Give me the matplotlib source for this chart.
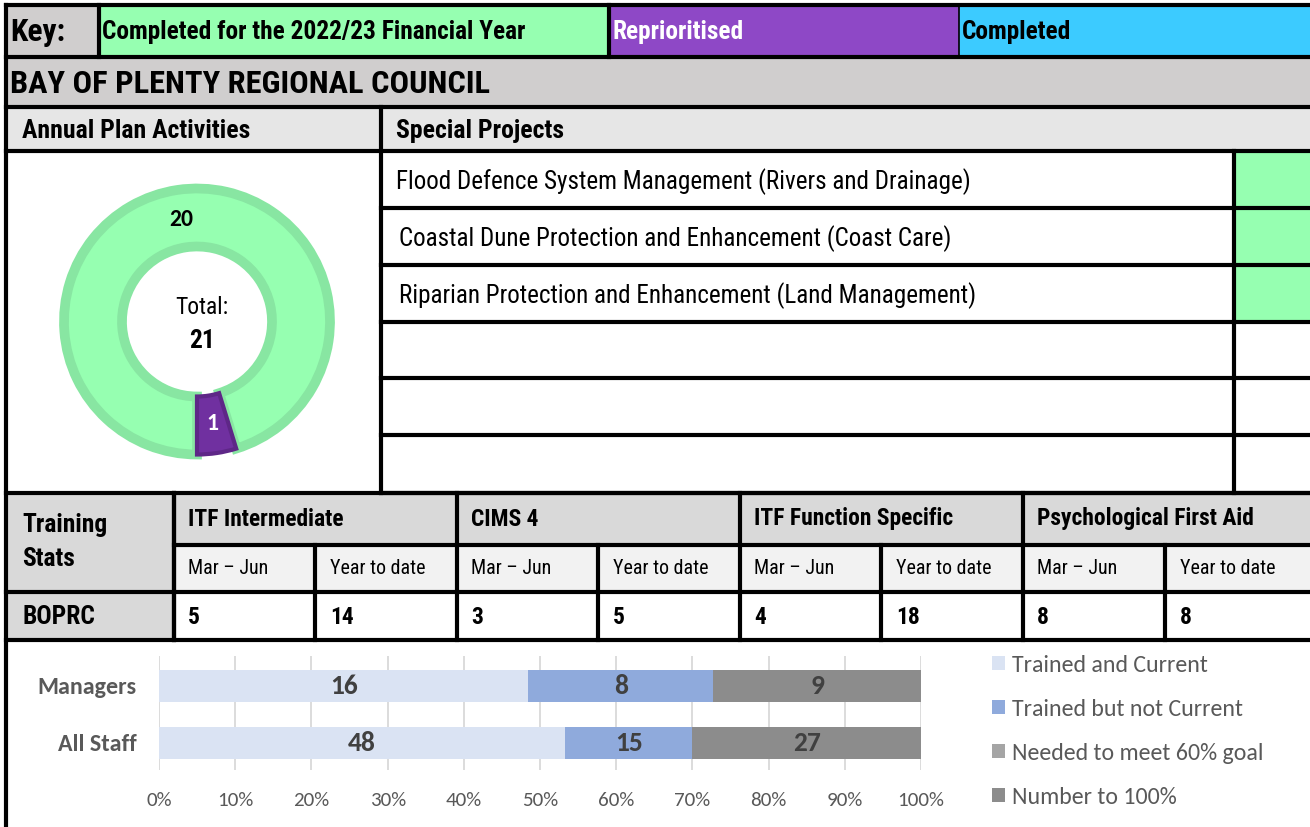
import matplotlib
matplotlib.use("Agg")
import matplotlib.pyplot as plt
from matplotlib.patches import Rectangle
from matplotlib import font_manager

# ---------------- data ----------------
key_title = "Key:"
key_labels = ["Completed for the 2022/23 Financial Year", "Reprioritised", "Completed"]
council = "BAY OF PLENTY REGIONAL COUNCIL"
section_titles = ["Annual Plan Activities", "Special Projects"]
donut_labels = ["Completed for the 2022/23 Financial Year", "Reprioritised"]
donut_values = [20, 1]
special_projects = [
    "Flood Defence System Management (Rivers and Drainage)",
    "Coastal Dune Protection and Enhancement (Coast Care)",
    "Riparian Protection and Enhancement (Land Management)",
    "", "", "",
]
special_status = [0, 0, 0, None, None, None]   # index into key_labels
training_title = ["Training", "Stats"]
training_courses = ["ITF Intermediate", "CIMS 4", "ITF Function Specific", "Psychological First Aid"]
training_periods = ["Mar – Jun", "Year to date"]
training_org = "BOPRC"
training_mar_jun = [5, 3, 4, 8]
training_ytd = [14, 5, 18, 8]
staff_groups = ["Managers", "All Staff"]
series_names = ["Trained and Current", "Trained but not Current",
                "Needed to meet 60% goal", "Number to 100%"]
trained_current = [16, 48]
trained_not_current = [8, 15]
needed_60 = [0, 0]
number_to_100 = [9, 27]
pct_ticks = [0, 10, 20, 30, 40, 50, 60, 70, 80, 90, 100]

# ---------------- fonts ----------------
available = {f.name for f in font_manager.fontManager.ttflist}


def pick(cands):
    for c in cands:
        if c in available:
            return [c, 'DejaVu Sans']
    return ['DejaVu Sans']


NARROW = pick(['Liberation Sans Narrow', 'Arial Narrow', 'Nimbus Sans Narrow',
               'Roboto Condensed', 'PT Sans Narrow', 'Archivo Narrow', 'Liberation Sans'])
CAL = pick(['Carlito', 'Lato', 'DejaVu Sans'])

# ---------------- styles ----------------
key_colors = ['#96ffb1', '#8e48c6', '#3ccbff']
key_text_colors = ['black', 'white', 'black']
donut_face = ['#96ffb1', '#7030a0']
donut_edge = ['#88e6a2', '#5e2787']
donut_lw = [7, 3]
donut_text = ['black', 'white']
series_colors = ['#dae3f3', '#8faadc', '#a5a5a5', '#8c8c8c']
GRAY1 = '#d0cece'
GRAY2 = '#e6e6e6'
GRAY3 = '#d9d9d9'
GRAY4 = '#f2f2f2'
LW = 3.0
DY = 2  # small downward nudge for table text

W, H = 1310, 827
fig = plt.figure(figsize=(W / 100, H / 100), dpi=100)
renderer = fig.canvas.get_renderer()


def fit(s, target, family, weight='normal'):
    t = fig.text(0, 0, s, fontsize=20, family=family, fontweight=weight)
    w = t.get_window_extent(renderer).width
    t.remove()
    return 20 * target / w


S_KEY = fit(key_title, 55, NARROW, 'bold')
S_KEYLAB = fit(key_labels[0], 424, NARROW, 'bold')
S_TITLE = fit(council, 480, NARROW, 'bold')
S_SECT = fit(section_titles[0], 228, NARROW, 'bold')
S_PROJ = fit(special_projects[0], 574, NARROW)
S_TRAIN = fit(training_title[0], 85, NARROW, 'bold')
S_COURSE = fit(training_courses[3], 217, NARROW, 'bold')
S_PERIOD = fit(training_periods[1], 95, NARROW)
S_TOTAL = fit("Total:", 53, NARROW)
S_TICK = fit("100%", 47, CAL)
S_CAT = fit(staff_groups[0], 99, CAL, 'bold')
S_LEG = fit(series_names[0], 196, CAL)
S_BARLAB = fit("48", 28, CAL, 'bold')
S_DONUT = fit("20", 24, CAL, 'bold')

bg = fig.add_axes([0, 0, 1, 1])
bg.set_xlim(0, W)
bg.set_ylim(H, 0)
bg.axis('off')


def rect(x0, y0, x1, y1, color):
    bg.add_patch(Rectangle((x0, y0), x1 - x0, y1 - y0, facecolor=color,
                           edgecolor='none', zorder=0))


def hline(y, x0, x1, lw=LW):
    bg.plot([x0, x1], [y, y], color='black', lw=lw, solid_capstyle='projecting', zorder=3)


def vline(x, y0, y1, lw=LW):
    bg.plot([x, x], [y0, y1], color='black', lw=lw, solid_capstyle='projecting', zorder=3)


def txt(x, y, s, size, weight='normal', color='black', family=NARROW, ha='left'):
    bg.text(x, y + DY, s, fontsize=size, fontweight=weight, color=color, family=family,
            ha=ha, va='center', zorder=4)


# ---- key row ----
key_x = [6, 99, 609, 959, W]
rect(key_x[0], 5, key_x[1], 57, GRAY1)
for i in range(3):
    rect(key_x[i + 1], 5, key_x[i + 2], 57, key_colors[i])
    txt(key_x[i + 1] + 3, 30, key_labels[i], S_KEYLAB, 'bold', key_text_colors[i])
txt(10, 30, key_title, S_KEY, 'bold')
vline(99, 5, 57)
vline(609, 5, 57)
vline(959, 5, 57, lw=1.2)

# ---- title row ----
rect(6, 57, W, 107, GRAY1)
txt(10, 82, council, S_TITLE, 'bold')

# ---- section header ----
rect(6, 107, W, 151, GRAY2)
txt(22, 129, section_titles[0], S_SECT, 'bold')
txt(396, 129, section_titles[1], S_SECT, 'bold')

# ---- special projects ----
row_y = [151, 208, 265, 322, 378, 435, 493]
for i, (name, st) in enumerate(zip(special_projects, special_status)):
    y0, y1 = row_y[i], row_y[i + 1]
    if st is not None:
        rect(1234, y0, W, y1, key_colors[st])
    if name:
        txt(396 if i == 0 else 399, (y0 + y1) / 2, name, S_PROJ)
    hline(y1, 381, W)
vline(381, 107, 493)
vline(1234, 151, 493)

# ---- training table ----
col_x = [6, 174, 315, 457, 598, 740, 881, 1023, 1165, W]
rect(6, 493, W, 545, GRAY3)
rect(6, 545, 174, 592, GRAY3)
rect(174, 545, W, 592, GRAY4)
rect(6, 592, 174, 640, GRAY3)
txt(22, 523, training_title[0], S_TRAIN, 'bold')
txt(22, 557, training_title[1], S_TRAIN, 'bold')
txt(22, 615, training_org, S_TRAIN, 'bold')
for c, course in enumerate(training_courses):
    xa = col_x[1 + 2 * c]
    xb = col_x[2 + 2 * c]
    txt(xa + 14, 517, course, S_COURSE, 'bold')
    txt(xa + 14, 566, training_periods[0], S_PERIOD)
    txt(xb + 15, 566, training_periods[1], S_PERIOD)
    txt(xa + 14, 615, str(training_mar_jun[c]), S_COURSE, 'bold')
    txt(xb + 15, 615, str(training_ytd[c]), S_COURSE, 'bold')
    vline(xa, 493, 640)
    vline(xb, 545, 640)
vline(174, 493, 640)
hline(545, 174, W)
hline(592, 6, W)
hline(640, 6, W)

# ---- outer lines ----
hline(5, 6, W)
hline(57, 6, W)
hline(107, 6, W)
hline(151, 6, W)
hline(493, 6, W)
vline(6, 5, H)

# ---------------- donut ----------------
cx, cy, box = 197, 321.5, 280
dax = fig.add_axes([(cx - box / 2) / W, 1 - (cy + box / 2) / H, box / W, box / H])
dax.axis('off')
total = sum(donut_values)
wedges, _, autot = dax.pie(
    donut_values, startangle=-90, counterclock=False, radius=133,
    colors=donut_face, autopct=lambda p: f"{round(p * total / 100)}",
    pctdistance=0.775, wedgeprops=dict(width=58),
    textprops=dict(fontsize=S_DONUT, fontweight='bold', family=CAL))
for w, ec, lw in zip(wedges, donut_edge, donut_lw):
    w.set_edgecolor(ec)
    w.set_linewidth(lw)
for t, c in zip(autot, donut_text):
    t.set_color(c)
dax.set_xlim(-140, 140)
dax.set_ylim(-140, 140)
dax.text(5, 14, "Total:", fontsize=S_TOTAL, family=NARROW, ha='center', va='center')
dax.text(5, -20, str(total), fontsize=S_TRAIN, fontweight='bold', family=NARROW,
         ha='center', va='center')

# ---------------- stacked bar ----------------
ax = fig.add_axes([159 / W, 1 - 770 / H, 762 / W, 114 / H])
ax.patch.set_alpha(0)
series = [trained_current, trained_not_current, needed_60, number_to_100]
totals = [sum(s[i] for s in series) for i in range(len(staff_groups))]
left = [0.0] * len(staff_groups)
handles = []
for vals, col in zip(series, series_colors):
    pct = [v / t * 100 for v, t in zip(vals, totals)]
    bars = ax.barh(range(len(staff_groups)), pct, left=left, height=0.56,
                   color=col, zorder=2)
    handles.append(bars)
    ax.bar_label(bars, labels=[str(v) if v else '' for v in vals], label_type='center',
                 fontsize=S_BARLAB, fontweight='bold', color='#404040', family=CAL)
    left = [l + p for l, p in zip(left, pct)]
ax.set_xlim(0, 100)
ax.set_ylim(1.474, -0.526)
ax.set_xticks(pct_ticks, [f"{t}%" for t in pct_ticks])
ax.set_yticks(range(len(staff_groups)), staff_groups)
ax.tick_params(axis='x', length=0, pad=16, labelsize=S_TICK, labelcolor='#595959')
ax.tick_params(axis='y', length=0, pad=16, labelsize=S_CAT, labelcolor='#595959')
for lab in ax.get_xticklabels():
    lab.set_family(CAL)
for lab in ax.get_yticklabels():
    lab.set_family(CAL)
    lab.set_fontweight('bold')
ax.xaxis.grid(True, color='#d9d9d9', lw=1.3, zorder=0)
ax.set_axisbelow(True)
for s in ax.spines.values():
    s.set_visible(False)

# legend, calibrated so rows sit 44 px apart starting at y=665 (pixels from top)
fs_px = S_LEG * 100 / 72


def make_legend(spacing, anchor_top):
    lg = fig.legend([h[0] for h in handles], series_names, loc='upper left',
                    bbox_to_anchor=(992 / W, 1 - anchor_top / H), frameon=False,
                    borderpad=0, borderaxespad=0, handlelength=0.55, handleheight=0.55,
                    handletextpad=0.3, labelspacing=spacing,
                    prop=dict(family=CAL, size=S_LEG))
    for t in lg.get_texts():
        t.set_color('#595959')
    return lg


spacing, top = 1.0, 652
leg = make_legend(spacing, top)
fig.canvas.draw()
bbs = [t.get_window_extent(renderer) for t in leg.get_texts()]
pitch = (bbs[0].y0 + bbs[0].y1) / 2 - (bbs[1].y0 + bbs[1].y1) / 2
spacing += (44 - pitch) / fs_px
leg.remove()
leg = make_legend(spacing, top)
fig.canvas.draw()
bb = leg.get_texts()[0].get_window_extent(renderer)
first_center = H - (bb.y0 + bb.y1) / 2
leg.remove()
leg = make_legend(spacing, top + (665 - first_center))

fig.savefig("out.png", dpi=100)
